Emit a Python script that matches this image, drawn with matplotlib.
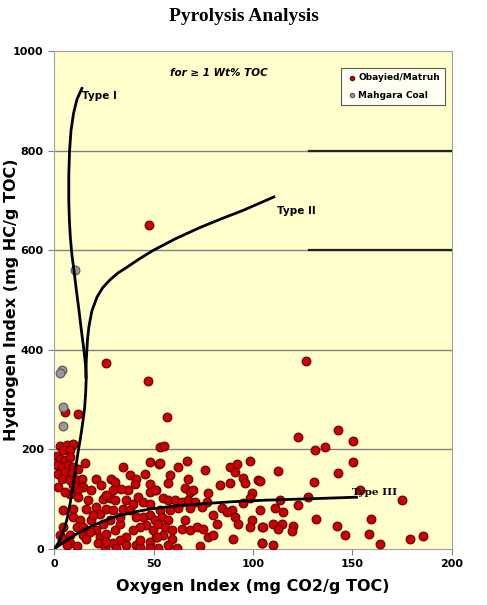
import matplotlib
matplotlib.use("Agg")
import matplotlib.pyplot as plt

# Obayied/Matruh samples (OI, HI)
oi_red = [3, 6.3, 9.7, 4.7, 8, 1.3, 3, 5.5, 8, 1.3, 3.8, 7.2, 9.7, 2.2, 5.5, 8.8, 3.8, 8, 11.3, 2.2,
          13.8, 15.5, 21, 14.7, 18.8, 12.2, 12.2, 8, 4.7, 9.7, 9.7, 13, 4.7, 11.3, 8, 3, 14.7, 18.8, 21, 24.7,
          28, 30.5, 23, 26.3, 29.7, 28, 24.7, 21.3, 23, 26.3, 30.5, 33, 33, 34.7, 36.3, 39.7, 42, 44.7, 48, 38,
          41.3, 44.7, 48, 50.5, 46.3, 43, 39.7, 36.3, 33, 29.7, 25.5, 31.3, 36.3, 41.3, 43, 48, 51.3, 49.7, 8, 6.3,
          3.8, 48, 53, 34.7, 28.8, 30.5, 38, 41.3, 40.5, 45.5, 48, 48, 51.3, 37, 29.7, 33.8, 26.3, 23.8,
          17.2, 16.3, 19.7, 14.7, 18, 16.3, 22.2, 26.3, 43, 48, 52, 11.3, 12.2, 9.7, 5.5,
          53.3, 55.4, 53.3, 62.5, 66.7, 58.3, 57.4, 67.5, 65.8, 68.3, 70, 50.75, 55, 57.4, 60.8, 64.2, 67.5, 70.9,
          75.9, 77.6, 76.7, 74.2, 68.3, 62.5, 58.3, 53.3, 54.1, 57.4, 52.4, 55.8, 59.1, 55, 51.6, 59.1, 57.4, 61.6,
          65.8, 64.2, 68.3, 71.7, 75, 77.6, 80, 81.7, 80, 84.3, 88.4, 91.8, 91, 95.1, 96, 88.4, 83.4, 98.5, 102.7,
          99.3, 98.5, 95.1, 89.3, 91, 92.6, 99.3, 98.5, 104.4, 90.1, 73.4, 104.4, 86.8,
          122.8, 142.9, 150.4, 131.1, 136.2, 150.4, 112.7, 142.9, 103.5, 130.6, 153.8, 127.8, 113.5, 122.8, 111,
          114.9, 103.5, 131.6, 110.2, 114.4, 120.3, 105.2, 112.7, 119.4, 142, 146.2, 104.3, 110.2,
          174.7, 159.3, 158.3, 163.8, 178.9, 185.6,
          47.7, 26, 47, 126.6, 5.5, 12, 57]
hi_red = [206, 208, 210, 198, 199, 186, 181, 178, 185, 168, 165, 168, 165, 151, 155, 153, 141, 138, 139, 125,
          141, 173, 141, 125, 118, 121, 105, 111, 78, 81, 65, 58, 45, 45, 28, 28, 28, 58, 85, 101,
          103, 98, 71, 81, 78, 58, 51, 38, 25, 31, 38, 51, 65, 81, 98, 91, 105, 95, 91, 78,
          65, 65, 68, 58, 48, 45, 38, 25, 18, 11, 2, 2, 8, 8, 3, 15, 25, 38, 11, 8,
          21, 175, 171, 165, 141, 135, 148, 141, 131, 151, 131, 115, 118, 118, 118, 121, 108, 128,
          98, 81, 68, 45, 35, 21, 11, 15, 18, 2, 2, 5, 161, 128, 115,
          205, 206, 172, 165, 177, 149, 132, 140, 122, 115, 118, 118, 102, 98, 98, 95, 98, 95,
          159, 112, 95, 85, 82, 82, 78, 78, 65, 58, 51, 45, 38, 28, 25, 21, 8, 2,
          58, 41, 38, 45, 41, 25, 28, 51, 68, 82, 165, 171, 155, 142, 132, 132, 128, 177, 138,
          112, 102, 92, 78, 65, 51, 58, 45, 45, 21, 5, 11, 75,
          224, 238, 216, 199, 205, 175, 157, 152, 137, 134, 118, 104, 98, 88, 82,
          75, 78, 60, 50, 50, 46, 45, 41, 36, 47, 28, 13, 7,
          98, 60, 30, 10, 21, 26,
          651, 373, 337, 377, 275, 271, 265]

# Mahgara Coal samples
oi_gray = [10.6, 4, 3, 4.5, 4.5]
hi_gray = [560, 359, 353, 285, 247]

# kerogen type lines
t1_x = [0, 1.5, 3, 4.7, 6.4, 8, 9.5, 10.8, 12, 13.4, 14.6, 15.4, 15.9, 16.2, 15.8, 15,
        13.7, 12.5, 11.2, 10, 9, 8.2, 7.7, 7.4, 7.4, 7.8, 8.5, 9.8, 11.5, 14]
t1_y = [0, 8, 18, 36, 58, 90, 125, 160, 193, 226, 259, 285, 315, 345, 370, 400,
        440, 480, 520, 560, 590, 625, 660, 700, 750, 800, 840, 875, 903, 925]
t2_x = [16, 16.2, 16.8, 17.5, 19, 21.6, 24.5, 28, 32, 36.7, 43, 50, 61, 73, 84, 95, 110.5]
t2_y = [345, 380, 420, 446, 478, 506, 525, 540, 554, 566, 583, 600, 623, 645, 663, 680, 707]
t3_x = [0, 2.5, 5, 10, 14.7, 19, 23, 27, 31, 40, 48, 60, 75, 90, 106, 130, 152]
t3_y = [0, 7, 14, 27, 38, 46, 53, 59, 65, 74, 80, 86, 91, 95, 98, 101, 104]

fig = plt.figure(figsize=(4.87, 6.05), dpi=100)
ax = fig.add_axes([0.111, 0.0926, 0.817, 0.823])
ax.set_facecolor('#FFFFCC')

for g in [200, 400, 600, 800]:
    ax.axhline(g, color='#808080', lw=1, zorder=1)
ax.plot([128, 200], [600, 600], color='#222222', lw=1.6, zorder=1)
ax.plot([128, 200], [800, 800], color='#222222', lw=1.6, zorder=1)

ax.scatter(oi_red, hi_red, s=40, c='#CC0000', edgecolors='#650000', linewidths=0.8,
           zorder=3, label='Obayied/Matruh')
ax.scatter(oi_gray, hi_gray, s=40, c='#999999', edgecolors='#555555', linewidths=0.8,
           zorder=3, label='Mahgara Coal')

ax.plot(t1_x, t1_y, color='black', lw=2, zorder=4, solid_joinstyle='round')
ax.plot(t2_x, t2_y, color='black', lw=2, zorder=4, solid_joinstyle='round')
ax.plot(t3_x, t3_y, color='black', lw=2, zorder=4, solid_joinstyle='round')

ax.text(14, 910, 'Type I', fontsize=7.5, fontweight='bold', va='center', ha='left')
ax.text(112, 679, 'Type II', fontsize=7.5, fontweight='bold', va='center', ha='left')
ax.text(150, 114, 'Type III', fontsize=7.5, fontweight='bold', va='center', ha='left',
        family='DejaVu Serif')
ax.text(83, 955, 'for \u2265 1 Wt% TOC', fontsize=7.5, fontweight='bold', style='italic',
        ha='center', va='center')

ax.set_xlim(0, 200)
ax.set_ylim(0, 1000)
ax.set_xticks([0, 50, 100, 150, 200])
ax.set_yticks([0, 200, 400, 600, 800, 1000])
ax.tick_params(labelsize=8, color='#808080', length=4)
for lab in ax.get_xticklabels() + ax.get_yticklabels():
    lab.set_fontweight('bold')
for s in ax.spines.values():
    s.set_color('#A0A0A0')

ax.set_xlabel('Oxygen Index (mg CO2/g TOC)', fontsize=11.5, fontweight='bold', labelpad=7)
ax.set_ylabel('Hydrogen Index (mg HC/g TOC)', fontsize=11.5, fontweight='bold')
ax.yaxis.set_label_coords(-0.088, 0.5)

leg = ax.legend(loc='upper right', bbox_to_anchor=(0.995, 0.975), fontsize=6.5, frameon=True,
                fancybox=False, edgecolor='#333333', handletextpad=0.1, markerscale=0.5,
                borderpad=0.6, labelspacing=0.9, handlelength=1.2)
leg.get_frame().set_linewidth(0.8)
for t in leg.get_texts():
    t.set_fontweight('bold')

fig.text(0.5, 0.972, 'Pyrolysis Analysis', fontsize=14, fontweight='bold',
         family='Liberation Serif', ha='center', va='center')

fig.savefig('out.png', dpi=100)
